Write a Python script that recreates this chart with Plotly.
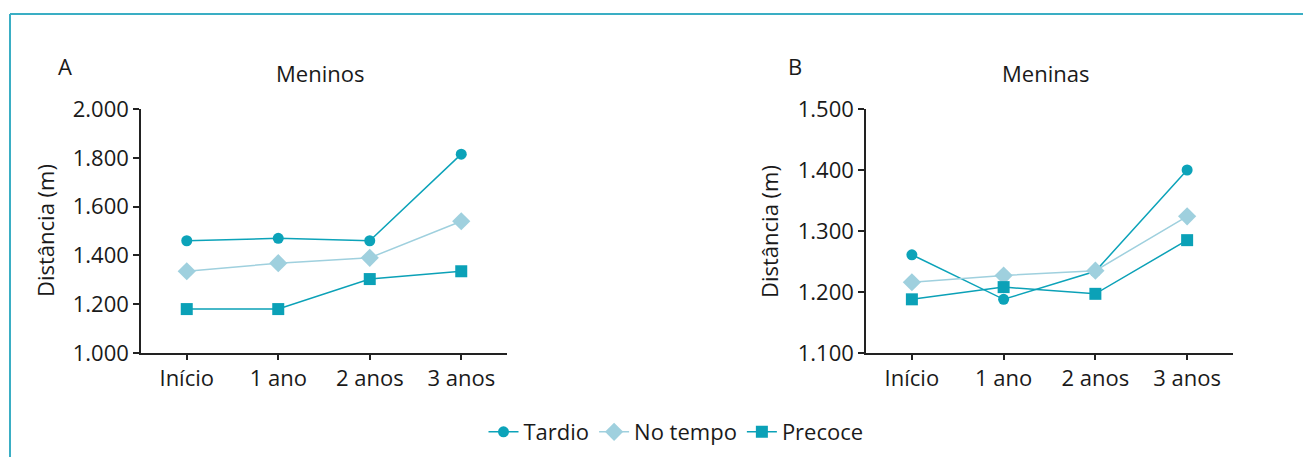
import plotly.graph_objects as go

categories = ["Início", "1 ano", "2 anos", "3 anos"]
series_names = ["Tardio", "No tempo", "Precoce"]

meninos_tardio = [1460, 1470, 1460, 1815]
meninos_no_tempo = [1335, 1368, 1390, 1540]
meninos_precoce = [1180, 1180, 1303, 1335]

meninas_tardio = [1261, 1188, 1234, 1400]
meninas_no_tempo = [1216, 1227, 1235, 1324]
meninas_precoce = [1188, 1208, 1197, 1285]

ticks_a = [1000, 1200, 1400, 1600, 1800, 2000]
ticks_b = [1100, 1200, 1300, 1400, 1500]

colors = {"Tardio": "#0ca3b9", "No tempo": "#9fd0de", "Precoce": "#0ba1b7"}
symbols = {"Tardio": "circle", "No tempo": "diamond", "Precoce": "square"}
msize = {"Tardio": 11, "No tempo": 14, "Precoce": 12}

W, H = 1311, 457
OFF = 8  # page body offset


def px(x):
    return (x - OFF) / W


def py(y):
    return 1 - (y - OFF) / H


FONT = "Open Sans"
FS = 22
TXT = "#1a1a1a"

fig = go.Figure()

data_a = [meninos_tardio, meninos_no_tempo, meninos_precoce]
data_b = [meninas_tardio, meninas_no_tempo, meninas_precoce]
for name, ya, yb in zip(series_names, data_a, data_b):
    fig.add_trace(go.Scatter(
        x=categories, y=ya, name=name, mode="lines+markers",
        line=dict(color=colors[name], width=1.5),
        marker=dict(symbol=symbols[name], size=msize[name], color=colors[name]),
        xaxis="x", yaxis="y", legendgroup=name, showlegend=True))
    fig.add_trace(go.Scatter(
        x=categories, y=yb, name=name, mode="lines+markers",
        line=dict(color=colors[name], width=1.5),
        marker=dict(symbol=symbols[name], size=msize[name], color=colors[name]),
        xaxis="x2", yaxis="y2", legendgroup=name, showlegend=False))

axis_common = dict(showgrid=False, zeroline=False, showline=True, linecolor="#222",
                   linewidth=1.5, ticks="outside", tickcolor="#222",
                   tickwidth=1.5, automargin=False,
                   tickfont=dict(family=FONT, size=FS, color=TXT))

fig.update_layout(
    template="none",
    width=W, height=H, autosize=False,
    margin=dict(l=0, r=0, t=0, b=0, pad=0),
    paper_bgcolor="white", plot_bgcolor="white",
    separators=",.",
    font=dict(family=FONT, color=TXT),
    xaxis=dict(domain=[px(141), px(507)], range=[-0.5, 3.5], type="category",
               anchor="y", ticklen=5, **axis_common),
    yaxis=dict(domain=[py(353), py(109)], range=[1000, 2000], tickvals=ticks_a,
               tickformat=",.0f", anchor="x", ticklen=6, **axis_common),
    xaxis2=dict(domain=[px(866), px(1233)], range=[-0.5, 3.5], type="category",
                anchor="y2", ticklen=5, **axis_common),
    yaxis2=dict(domain=[py(353), py(109)], range=[1100, 1500], tickvals=ticks_b,
                tickformat=",.0f", anchor="x2", ticklen=6, **axis_common),
    legend=dict(orientation="h", x=px(676), xanchor="center", y=py(432),
                yanchor="middle", font=dict(family=FONT, size=FS, color=TXT),
                itemwidth=30, tracegroupgap=0, bgcolor="rgba(0,0,0,0)"),
    showlegend=True,
)

annotations = [
    dict(text="A", x=px(65), y=py(66)),
    dict(text="Meninos", x=px(320), y=py(73)),
    dict(text="B", x=px(795), y=py(66)),
    dict(text="Meninas", x=px(1045), y=py(73)),
    dict(text="Distância (m)", x=px(45), y=py(231), textangle=-90),
    dict(text="Distância (m)", x=px(769), y=py(232), textangle=-90),
]
for a in annotations:
    fig.add_annotation(xref="paper", yref="paper", showarrow=False,
                       xanchor="center", yanchor="middle",
                       font=dict(family=FONT, size=FS, color=TXT), **a)

frame_color = "#3aaec4"
fig.add_shape(type="line", xref="paper", yref="paper",
              x0=px(10), y0=0, x1=px(10), y1=py(14),
              line=dict(color=frame_color, width=2))
fig.add_shape(type="line", xref="paper", yref="paper",
              x0=px(10), y0=py(14), x1=1, y1=py(14),
              line=dict(color=frame_color, width=2))

fig.write_html("out.html")
